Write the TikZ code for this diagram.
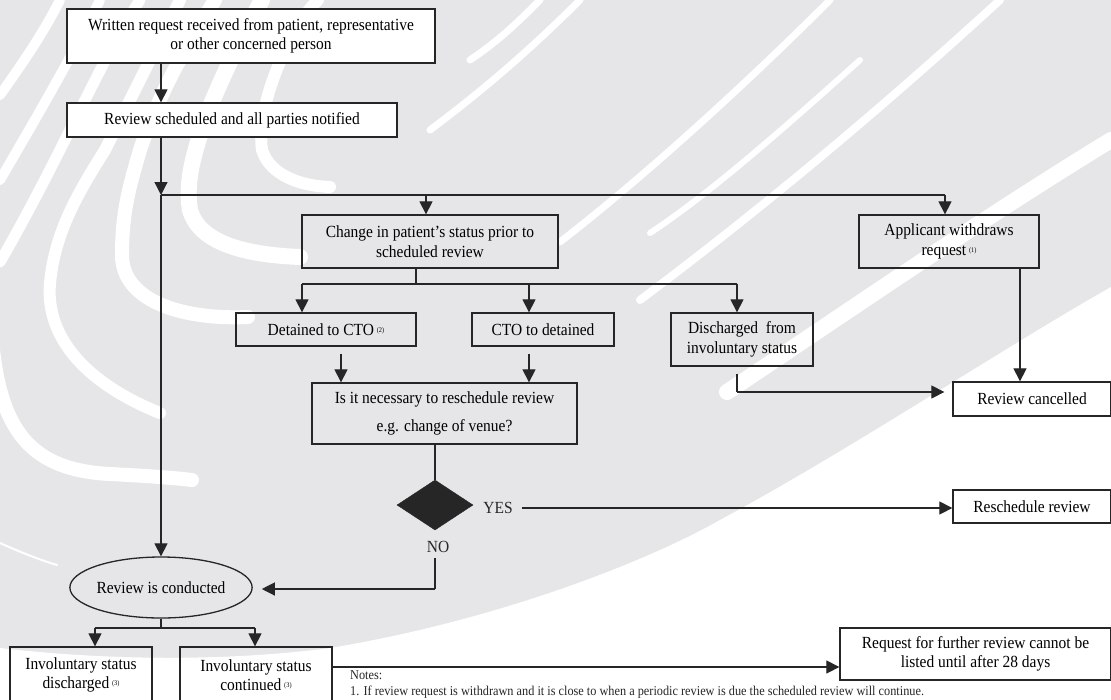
\documentclass[tikz,border=0pt]{standalone}
\usepackage{fontspec}
\setmainfont{Liberation Serif}[FakeStretch=0.91]
\usetikzlibrary{arrows.meta,shapes.geometric,calc}
\definecolor{bggray}{RGB}{230,230,232}
\definecolor{ink}{RGB}{38,38,38}
\newcommand{\mk}[1]{\,{\fontsize{7}{7}\selectfont\raisebox{3pt}{(#1)}}}
\begin{document}
\begin{tikzpicture}[x=1pt,y=-1pt,
  box/.style={draw=ink, line width=1.3pt, inner sep=0pt, align=center, font=\fontsize{17}{19.5}\selectfont},
  lab/.style={inner sep=1pt, font=\fontsize{17}{19.5}\selectfont, text=ink},
  arr/.style={draw=ink, line width=1.2pt, -{Triangle[length=13pt,width=13pt]}},
  ln/.style={draw=ink, line width=1.2pt},
  wb/.style={draw=white, line cap=round}]
\useasboundingbox (0,0) rectangle (1111,699);
% ---- watermark background ----
\fill[bggray] (0,0) rectangle (1111,699);
\fill[white] (0,699) -- (0,648) .. controls (120,662) and (240,660) .. (330,648)
  .. controls (500,620) and (650,560) .. (720,520)
  .. controls (850,450) and (1000,350) .. (1111,287) -- (1111,699) -- cycle;
% upper-left bands
\draw[wb, line width=11pt] (0,262) .. controls (30,210) and (55,160) .. (75,120) .. controls (95,80) and (120,30) .. (140,0);
\draw[wb, line width=12pt] (160,413) .. controls (90,385) and (45,340) .. (50,283) .. controls (55,230) and (80,190) .. (105,150) .. controls (130,100) and (160,40) .. (180,0);
\draw[wb, line width=14pt] (-8,340) .. controls (0,430) and (30,470) .. (110,474) .. controls (150,476) and (175,478) .. (192,480);
\draw[wb, line width=14pt] (248,317) .. controls (180,320) and (122,300) .. (122,255) .. controls (122,210) and (130,185) .. (140,150) .. controls (160,90) and (190,40) .. (215,0);
\draw[wb, line width=16pt] (300,257) .. controls (250,255) and (200,245) .. (190,210) .. controls (185,180) and (195,150) .. (205,120) .. controls (220,80) and (240,40) .. (262,0);
\draw[wb, line width=12pt] (330,187) .. controls (300,186) and (270,175) .. (262,150) .. controls (258,120) and (270,80) .. (290,40) .. controls (300,20) and (310,8) .. (318,0);
\draw[wb, line width=10pt] (60,0) .. controls (45,30) and (25,60) .. (0,95);
\draw[wb, line width=10pt] (100,0) .. controls (70,60) and (35,120) .. (0,180);
\draw[wb, line width=2pt] (0,543) .. controls (20,552) and (40,560) .. (57,565);
% upper-right bands
\draw[wb, line width=7pt] (560,242) .. controls (640,180) and (740,90) .. (830,0);
\draw[wb, line width=6pt] (650,233) .. controls (700,200) and (760,150) .. (860,60);
\draw[wb, line width=8pt] (640,300) .. controls (760,210) and (880,110) .. (1000,0);
\draw[wb, line width=16pt] (727,392) .. controls (850,310) and (980,220) .. (1111,140);
\draw[wb, line width=7pt] (430,130) .. controls (470,100) and (520,60) .. (580,0);
\draw[wb, line width=7pt] (470,60) .. controls (500,40) and (520,20) .. (540,0);
% ---- nodes ----
\node[box, fill=white, minimum width=368pt, minimum height=54pt] (w1) at (251,36)
  {Written request received from patient, representative\\or other concerned person};
\node[box, fill=white, minimum width=330pt, minimum height=34pt] (rs) at (232,120)
  {Review scheduled and all parties notified};
\node[box, minimum width=256pt, minimum height=53pt] (chg) at (430,241.5)
  {Change in patient’s status prior to\\scheduled review};
\node[box, minimum width=180pt, minimum height=53pt] (app) at (949,241.5)
  {Applicant withdraws\\request\mk{1}};
\node[box, minimum width=180pt, minimum height=33pt] (det) at (326,329.5)
  {Detained to CTO\mk{2}};
\node[box, minimum width=142pt, minimum height=33pt] (ctd) at (543,329.5)
  {CTO to detained};
\node[box, minimum width=142pt, minimum height=53pt] (dis) at (742,339.5)
  {Discharged\ \ from\\involuntary status};
\node[box, minimum width=265pt, minimum height=61pt] (q) at (444.5,413.5)
  {Is it necessary to reschedule review\\[9pt]e.g. change of venue?};
\node[box, minimum width=158pt, minimum height=34pt] (can) at (1032,399)
  {Review cancelled};
\node[diamond, fill=ink, draw=ink, minimum width=76pt, minimum height=50pt, inner sep=0pt] (dia) at (435,505) {};
\node[lab] (yes) at (498,508) {YES};
\node[lab] (no) at (438,547) {NO};
\node[box, minimum width=158pt, minimum height=33pt] (rsch) at (1032,506.5)
  {Reschedule review};
\node[box, ellipse, minimum width=171pt, minimum height=61pt] (rc) at (161,587.5)
  {Review is conducted};
\node[box, minimum width=142pt, minimum height=56pt] (invd) at (81,675)
  {Involuntary status\\discharged\mk{3}};
\node[box, minimum width=152pt, minimum height=56pt] (invc) at (256,675)
  {Involuntary status\\continued\mk{3}};
\node[box, minimum width=271pt, minimum height=52pt] (req) at (975.5,654)
  {Request for further review cannot be\\listed until after 28 days};
\node[anchor=base west, inner sep=0pt, text=ink, font=\fontsize{13.5}{15}\selectfont] (notes) at (350,679) {Notes:};
\node[anchor=base west, inner sep=0pt, text=ink, font=\fontsize{13.5}{15}\selectfont] (note1) at (350,695.5)
  {1. If review request is withdrawn and it is close to when a periodic review is due the scheduled review will continue.};
% ---- coordinates ----
\coordinate (j0) at (161,195);
\coordinate (j1) at (416,284);
\coordinate (j2) at (435,589);
\coordinate (j3) at (737,392);
\coordinate (j4) at (161,628);
\coordinate (xa) at (302,0);
\coordinate (xb) at (529,0);
\coordinate (xc) at (426,0);
\coordinate (xd) at (737,0);
\coordinate (xe) at (341,0);
\coordinate (xf) at (1020,0);
\coordinate (xg) at (95,0);
\coordinate (xh) at (255,0);
\coordinate (xq) at (435,0);
\coordinate (xapp) at (945,0);
\coordinate (yk) at (0,667);
% ---- connectors ----
\draw[arr] (w1.south -| j0) -- (rs.north -| j0);
\draw[arr] (rs.south -| j0) -- (j0);
\draw[arr] (j0) -- (rc.north);
\draw[ln] (j0) -- (j0 -| xapp);
\draw[arr] (j0 -| xapp) -- (app.north -| xapp);
\draw[arr] (j0 -| xc) -- (chg.north -| xc);
\draw[ln] (chg.south -| j1) -- (j1);
\draw[ln] (j1 -| xa) -- (j1 -| xd);
\draw[arr] (j1 -| xa) -- (det.north -| xa);
\draw[arr] (j1 -| xb) -- (ctd.north -| xb);
\draw[arr] (j1 -| xd) -- (dis.north -| xd);
\draw[arr] ([yshift=-7pt]det.south -| xe) -- (q.north -| xe);
\draw[arr] ([yshift=-7pt]ctd.south -| xb) -- (q.north -| xb);
\draw[ln] (q.south -| xq) -- (dia.north);
\draw[arr, shorten <=8pt] (yes.east) -- (yes.east -| rsch.west);
\draw[ln, shorten <=4pt] (no.south -| j2) -- (j2);
\draw[arr, shorten >=9pt] (j2) -- (j2 -| rc.east);
\draw[arr] (app.south -| xf) -- (can.north -| xf);
\draw[ln] ([yshift=-7pt]dis.south -| xd) -- (j3);
\draw[arr, shorten >=8pt] (j3) -- (j3 -| can.west);
\draw[ln] (rc.south) -- (j4);
\draw[ln] (j4 -| xg) -- (j4 -| xh);
\draw[arr] (j4 -| xg) -- (invd.north -| xg);
\draw[arr] (j4 -| xh) -- (invc.north -| xh);
\draw[arr] (invc.east |- yk) -- (req.west |- yk);
\end{tikzpicture}
\end{document}
